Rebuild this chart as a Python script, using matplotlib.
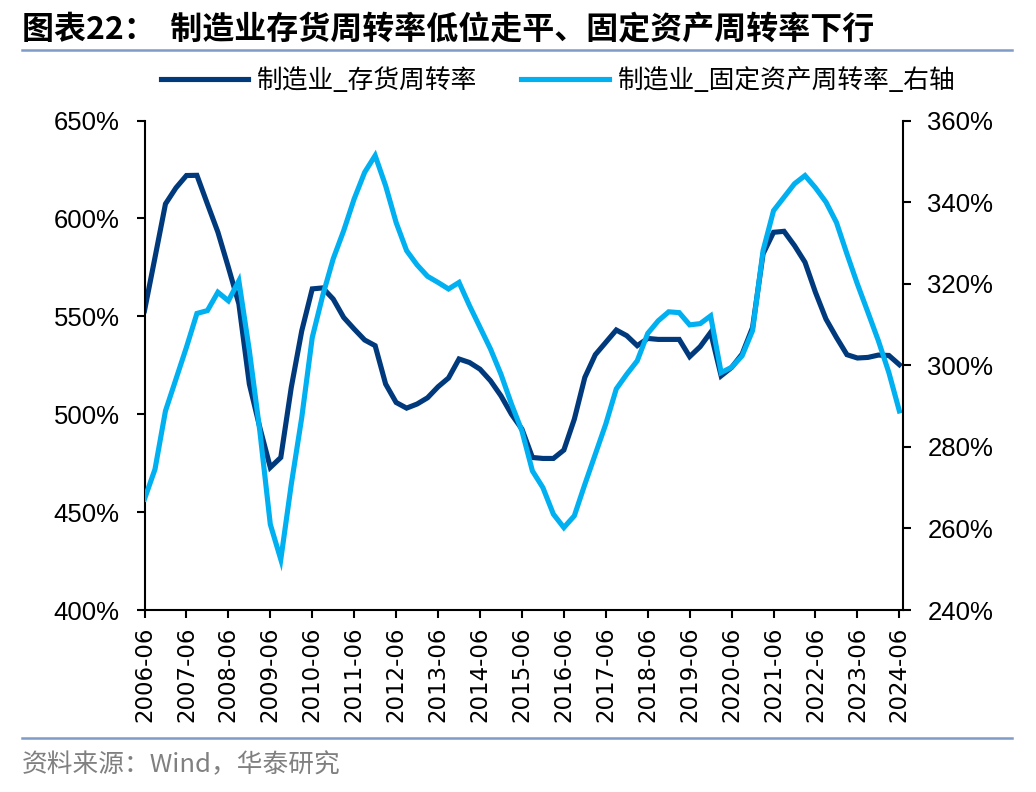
import matplotlib
matplotlib.use("Agg")
import matplotlib.pyplot as plt
from matplotlib.lines import Line2D
import numpy as np

# ---- data ----
quarters = [f"{y}-{m:02d}" for y in range(2006, 2025) for m in (3, 6, 9, 12)]
quarters = quarters[quarters.index("2006-06"):quarters.index("2024-06") + 1]

inventory_turnover = [
    552.9, 580.0, 607.4, 615.6, 621.9, 622.0, 607.4, 593.0, 575.0, 556.4,
    515.4, 493.2, 472.8, 477.9, 513.7, 542.6, 564.0, 564.5, 558.8, 549.4,
    543.5, 537.9, 535.0, 515.4, 506.0, 503.1, 505.2, 508.4, 514.0, 518.5,
    528.2, 526.4, 523.0, 517.1, 509.4, 500.0, 492.4, 477.9, 477.4, 477.4,
    481.7, 497.5, 518.8, 530.4, 536.7, 543.0, 540.1, 535.0, 538.7, 538.2,
    538.2, 538.2, 529.4, 534.5, 541.8, 519.6, 523.9, 530.7, 544.3, 581.9,
    592.9, 593.4, 586.1, 577.6, 562.2, 548.6, 539.2, 530.4, 528.7, 529.0,
    530.2, 530.0, 525.3,
]
fixed_asset_turnover = [
    267.2, 274.5, 288.8, 296.6, 304.4, 312.7, 313.4, 317.9, 315.8, 320.7,
    303.6, 283.9, 261.0, 252.4, 270.8, 287.2, 306.8, 317.1, 326.1, 333.0,
    340.8, 347.3, 351.4, 344.0, 335.0, 328.1, 324.6, 321.8, 320.3, 318.7,
    320.3, 314.6, 309.3, 304.0, 297.8, 290.5, 283.9, 274.1, 270.0, 263.5,
    260.2, 263.1, 270.8, 278.2, 285.6, 294.2, 297.8, 301.1, 307.8, 310.9,
    313.1, 312.9, 309.9, 310.2, 312.1, 298.2, 299.5, 302.3, 308.5, 328.1,
    337.9, 341.2, 344.5, 346.5, 343.5, 340.0, 335.0, 327.3, 319.9, 313.0,
    306.0, 298.2, 288.8,
]
left_ticks = [400, 450, 500, 550, 600, 650]
right_ticks = [240, 260, 280, 300, 320, 340, 360]
x_tick_labels = [q for q in quarters if q.endswith("-06")]

series_names = ["制造业_存货周转率", "制造业_固定资产周转率_右轴"]
title = "图表22：  制造业存货周转率低位走平、固定资产周转率下行"
source = "资料来源：Wind，华泰研究"

# ---- style ----
dark = "#003A7D"
light = "#00B0F0"
cjk = ["Noto Sans CJK SC", "DejaVu Sans"]
num_font = ["Liberation Sans", "DejaVu Sans"]

W, H = 1036, 792
fig = plt.figure(figsize=(W / 100, H / 100), dpi=100)
fig.patch.set_facecolor("white")

ax_l, ax_r, ax_t, ax_b = 144.5, 902.5, 120.5, 610
ax = fig.add_axes([ax_l / W, 1 - ax_b / H, (ax_r - ax_l) / W, (ax_b - ax_t) / H])
ax2 = ax.twinx()

x = np.arange(len(quarters))
l1, = ax.plot(x, inventory_turnover, color=dark, lw=3.7, solid_joinstyle="miter",
              label=series_names[0])
l2, = ax2.plot(x, fixed_asset_turnover, color=light, lw=3.7, solid_joinstyle="miter",
               label=series_names[1])

ax.set_xlim(0, len(quarters) - 1 + 0.3)
ax.set_ylim(left_ticks[0], left_ticks[-1])
ax2.set_ylim(right_ticks[0], right_ticks[-1])

ax.set_yticks(left_ticks)
ax.set_yticklabels([f"{v}%" for v in left_ticks], fontfamily=num_font, fontsize=18.5)
ax2.set_yticks(right_ticks)
ax2.set_yticklabels([f"{v}%" for v in right_ticks], fontfamily=num_font, fontsize=18.5)

xt = [quarters.index(q) for q in x_tick_labels]
ax.set_xticks(xt)
ax.set_xticklabels(x_tick_labels, rotation=90, fontfamily=["DejaVu Sans"], fontsize=16.5)

for a in (ax, ax2):
    a.spines["top"].set_visible(False)
    for s in ("left", "right", "bottom"):
        a.spines[s].set_linewidth(1.5)
        a.spines[s].set_color("black")
    a.tick_params(direction="out", length=6, width=1.5, colors="black", pad=12)
ax.spines["right"].set_visible(False)
ax2.spines["left"].set_visible(False)
ax2.spines["bottom"].set_visible(False)
ax.tick_params(axis="x", pad=6)

# legend
fig.legend(handles=[l1, l2], labels=series_names, loc="center",
           bbox_to_anchor=(558 / W, 1 - 81 / H), ncol=2, frameon=False,
           prop={"family": cjk, "size": 18.5}, handlelength=3.4, handletextpad=0.35,
           columnspacing=1.7)

# title, rules, source
fig.text(22 / W, 1 - 30 / H, title, fontfamily=cjk, fontsize=23, fontweight="bold",
         va="center", ha="left", color="black")
rule_color = "#7E9CC6"
fig.add_artist(Line2D([22 / W, 1012 / W], [1 - 50 / H] * 2, color=rule_color, lw=1.8,
                      transform=fig.transFigure))
fig.add_artist(Line2D([22 / W, 1012 / W], [1 - 738 / H] * 2, color=rule_color, lw=1.8,
                      transform=fig.transFigure))
fig.text(22 / W, 1 - 765 / H, source, fontfamily=cjk, fontsize=18.5, va="center",
         ha="left", color="#808080")

fig.savefig("out.png", dpi=100, facecolor="white")
